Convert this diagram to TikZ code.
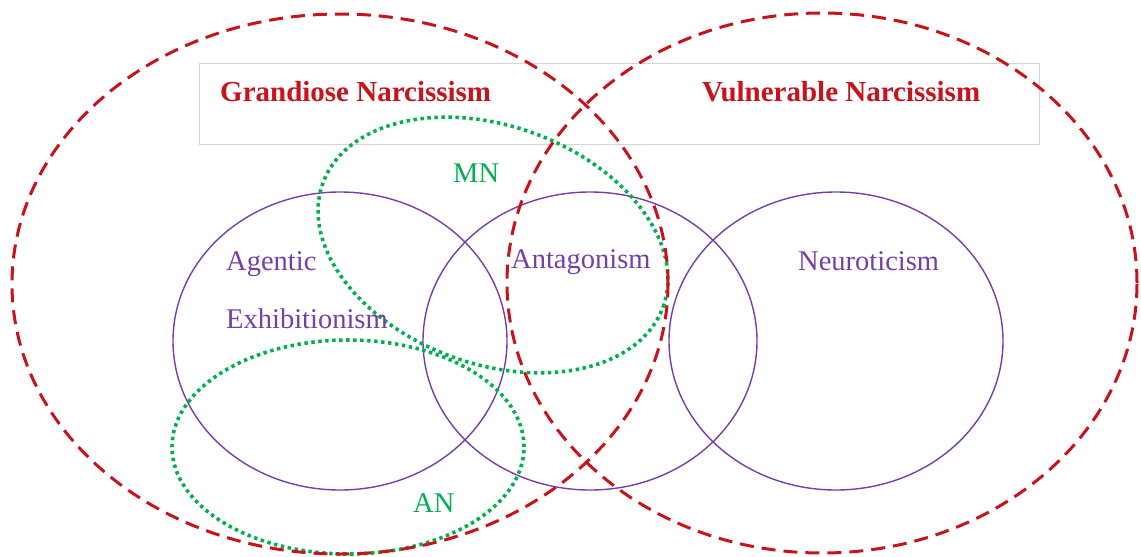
\documentclass[tikz,border=0pt]{standalone}
\usepackage{fontspec}
\setmainfont{Liberation Serif}
\usetikzlibrary{shapes.geometric}
\definecolor{narcred}{RGB}{200,18,28}
\definecolor{traitpurple}{RGB}{118,62,168}
\definecolor{subgreen}{RGB}{0,176,80}
\definecolor{framegray}{RGB}{212,212,212}

\begin{document}
\begin{tikzpicture}[x=1pt,y=-1pt,
  outer/.style={ellipse, draw=narcred, line width=3pt, dash pattern=on 14pt off 8pt, inner sep=0pt},
  trait/.style={ellipse, draw=traitpurple, line width=1.4pt, minimum width=334pt, minimum height=298pt, inner sep=0pt},
  subtype/.style={ellipse, draw=subgreen, line width=3.6pt, dash pattern=on 3.4pt off 3.6pt, inner sep=0pt},
  title/.style={anchor=base west, inner sep=0pt, text=narcred, font=\fontsize{29}{34}\selectfont\bfseries},
  traitlabel/.style={anchor=base west, inner sep=0pt, text=traitpurple, font=\fontsize{28.5}{34}\selectfont},
  sublabel/.style={anchor=base west, inner sep=0pt, text=subgreen, font=\fontsize{28.5}{34}\selectfont}]
  \useasboundingbox (0,0) rectangle (1141,557);

  % header frame
  \node[draw=framegray, line width=1pt, minimum width=840pt, minimum height=81pt, inner sep=0pt] (frame) at (619.5,103.5) {};

  % trait circles
  \node[trait] (agentic) at (340,341) {};
  \node[trait] (antag) at (590,341) {};
  \node[trait] (neuro) at (836,341) {};

  % narcissism subtypes
  \node[subtype, minimum width=362pt, minimum height=238pt, rotate=-20] (mn) at (493,245) {};
  \node[subtype, minimum width=352pt, minimum height=214pt] (an) at (348,447) {};

  % grandiose and vulnerable domains
  \node[outer, minimum width=656pt, minimum height=540pt] (grand) at (340,284) {};
  \node[outer, minimum width=630pt, minimum height=540pt] (vuln) at (822,283) {};

  % labels
  \node[title] (gtext) at (220,101) {Grandiose Narcissism};
  \node[title] (vtext) at (702,101) {Vulnerable Narcissism};
  \node[traitlabel] (agtext) at (226,270) {Agentic};
  \node[traitlabel] (extext) at (226,328) {Exhibitionism};
  \node[traitlabel] (antext) at (511,268) {Antagonism};
  \node[traitlabel] (netext) at (798,270) {Neuroticism};
  \node[sublabel] (mntext) at (453,182) {MN};
  \node[sublabel] (antext2) at (413,512) {AN};
\end{tikzpicture}
\end{document}
